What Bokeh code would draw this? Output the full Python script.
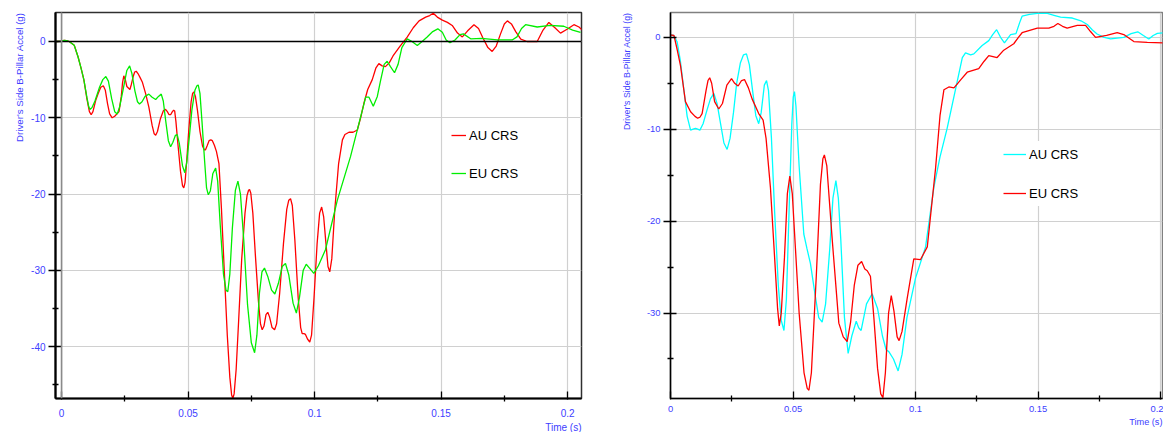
from bokeh.plotting import figure
from bokeh.layouts import row
from bokeh.models import Range1d, FixedTicker, Span, Title, Legend, LegendItem
from bokeh.embed import file_html
from bokeh.resources import INLINE

FONT = "Liberation Sans"
BLUE = "#4040ff"

# ---------------- data ----------------
x_label = "Time (s)"
y_label = "Driver's Side B-Pillar Accel (g)"
series_names = ["AU CRS", "EU CRS"]

x_ticks = [0, 0.05, 0.1, 0.15, 0.2]
x_tick_labels = ["0", "0.05", "0.1", "0.15", "0.2"]
x_minor_ticks = [0.025, 0.075, 0.125, 0.175]

left_y_ticks = [0, -10, -20, -30, -40]
left_y_tick_labels = ["0", "-10", "-20", "-30", "-40"]
left_y_minor_ticks = [-5, -15, -25, -35, -45]

right_y_ticks = [0, -10, -20, -30]
right_y_tick_labels = ["0", "-10", "-20", "-30"]
right_y_minor_ticks = [-5, -15, -25, -35]

# left chart, AU CRS (red): (time s, accel g)
left_au = [
    (-0.002, 0.0), (0.0, 0.05), (0.001, 0.15), (0.002, 0.12), (0.003, 0.0), (0.005, -0.5),
    (0.0065, -2.0), (0.0077, -3.5), (0.0088, -5.0), (0.0100, -7.5), (0.0110, -9.2),
    (0.0117, -9.6), (0.0124, -9.2), (0.0135, -7.7), (0.0145, -6.8), (0.0155, -6.0),
    (0.0165, -5.8), (0.0173, -6.4), (0.0182, -8.2), (0.0190, -9.5), (0.0200, -10.0),
    (0.0210, -9.8), (0.0227, -9.2), (0.0236, -7.2), (0.0241, -5.4), (0.0246, -4.5),
    (0.0252, -5.0), (0.0258, -5.9), (0.0264, -6.1), (0.0270, -6.3), (0.0276, -5.6),
    (0.0283, -4.6), (0.0289, -4.0), (0.0295, -3.9), (0.0302, -4.2), (0.0310, -4.7),
    (0.0319, -5.3), (0.0332, -6.8), (0.0345, -8.6), (0.0358, -11.0), (0.0366, -12.1),
    (0.0372, -12.3), (0.0379, -11.8), (0.0390, -10.2), (0.0402, -9.1), (0.0411, -8.9),
    (0.0418, -9.2), (0.0425, -9.6), (0.0431, -9.6), (0.0438, -9.2), (0.0443, -9.0),
    (0.0447, -9.1), (0.0452, -10.5), (0.0460, -13.5), (0.0470, -17.0), (0.0478, -18.9),
    (0.0483, -19.2), (0.0488, -18.5), (0.0495, -15.5), (0.0503, -11.5), (0.0512, -7.9),
    (0.0518, -6.8), (0.0523, -6.6), (0.0529, -7.2), (0.0537, -9.0), (0.0547, -11.8),
    (0.0557, -13.7), (0.0564, -14.2), (0.0569, -14.2), (0.0575, -13.7), (0.0583, -13.0),
    (0.0590, -12.9), (0.0596, -13.0), (0.0604, -13.6), (0.0612, -14.4), (0.0622, -16.0),
    (0.0632, -22.0), (0.0643, -30.0), (0.0655, -38.5), (0.0665, -44.0), (0.0672, -46.3),
    (0.0677, -46.8), (0.0682, -46.2), (0.0690, -43.0), (0.0700, -36.5), (0.0712, -28.5),
    (0.0725, -22.5), (0.0733, -20.2), (0.0739, -19.5), (0.0743, -19.4), (0.0748, -19.9),
    (0.0756, -22.5), (0.0766, -28.0), (0.0778, -34.0), (0.0786, -37.0), (0.0793, -37.8),
    (0.0800, -37.3), (0.0808, -35.8), (0.0815, -35.5), (0.0822, -36.1), (0.0832, -37.5),
    (0.0842, -37.8), (0.0850, -37.0), (0.0862, -33.0), (0.0877, -26.5), (0.0890, -22.0),
    (0.0898, -20.8), (0.0905, -20.6), (0.0912, -21.5), (0.0922, -26.0), (0.0935, -33.5),
    (0.0945, -37.5), (0.0951, -38.3), (0.0958, -38.3), (0.0964, -38.4), (0.0972, -39.0),
    (0.0981, -39.4), (0.0988, -38.5), (0.0998, -33.5), (0.1010, -26.5), (0.1020, -22.5),
    (0.1028, -21.7), (0.1036, -23.0), (0.1045, -26.5), (0.1053, -29.5), (0.1060, -30.2),
    (0.1068, -28.5), (0.1080, -22.0), (0.1095, -16.0), (0.1110, -12.9), (0.1120, -12.2),
    (0.1136, -11.9), (0.1152, -11.9), (0.1169, -11.6), (0.1182, -10.0), (0.1195, -8.1),
    (0.1210, -6.3), (0.1228, -5.0), (0.1242, -3.5), (0.1254, -2.9), (0.1267, -3.2),
    (0.1280, -3.3), (0.1295, -2.8), (0.1310, -1.9), (0.1338, -0.6), (0.1366, 0.56),
    (0.1390, 1.8), (0.1413, 2.7), (0.1439, 3.2), (0.1455, 3.4), (0.1469, 3.7),
    (0.1485, 3.2), (0.1505, 2.8), (0.1525, 2.5), (0.1544, 2.1), (0.1565, 1.1),
    (0.1584, 0.6), (0.1605, 1.4), (0.1630, 2.2), (0.1648, 1.7), (0.1665, 0.5),
    (0.1685, -0.8), (0.1702, -1.3), (0.1718, -0.6), (0.1735, 1.0), (0.1750, 2.3),
    (0.1762, 2.7), (0.1778, 2.3), (0.1795, 1.3), (0.1815, 0.3), (0.1840, 0.0),
    (0.1880, 0.0), (0.1903, 1.5), (0.1926, 2.5), (0.1950, 1.8), (0.1972, 1.1),
    (0.1998, 1.6), (0.2025, 2.2), (0.2045, 1.9), (0.2058, 1.5),
]

# left chart, EU CRS (green)
left_eu = [
    (-0.002, 0.0), (0.0, 0.05), (0.001, 0.15), (0.002, 0.12), (0.003, 0.0), (0.005, -0.5),
    (0.0065, -2.0), (0.0077, -3.5), (0.0088, -5.0), (0.0100, -7.3), (0.0107, -8.5),
    (0.0112, -8.9), (0.0120, -8.7), (0.0132, -7.8), (0.0150, -6.0), (0.0163, -5.0),
    (0.0175, -4.6), (0.0185, -5.2), (0.0198, -7.5), (0.0210, -9.2), (0.0220, -9.5),
    (0.0230, -8.5), (0.0245, -6.0), (0.0258, -3.8), (0.0269, -3.2), (0.0278, -4.2),
    (0.0290, -6.5), (0.0300, -7.9), (0.0308, -8.2), (0.0318, -7.9), (0.0330, -7.2),
    (0.0345, -6.9), (0.0358, -7.3), (0.0372, -7.6), (0.0383, -7.2), (0.0394, -6.9),
    (0.0402, -7.8), (0.0412, -10.5), (0.0422, -13.0), (0.0431, -13.8), (0.0440, -13.2),
    (0.0450, -12.3), (0.0457, -12.2), (0.0465, -13.3), (0.0478, -16.3), (0.0487, -17.2),
    (0.0495, -15.8), (0.0505, -12.5), (0.0515, -9.0), (0.0527, -6.4), (0.0535, -5.8),
    (0.0540, -5.7), (0.0547, -6.8), (0.0555, -10.5), (0.0565, -15.5), (0.0573, -19.2),
    (0.0580, -20.1), (0.0588, -19.6), (0.0598, -17.3), (0.0609, -16.6), (0.0617, -18.3),
    (0.0627, -24.0), (0.0640, -30.5), (0.0650, -32.6), (0.0657, -32.8), (0.0665, -30.5),
    (0.0675, -24.5), (0.0687, -19.5), (0.0697, -18.3), (0.0707, -20.0), (0.0720, -26.0),
    (0.0735, -34.5), (0.0750, -39.5), (0.0763, -40.8), (0.0772, -38.5), (0.0782, -33.0),
    (0.0792, -30.2), (0.0802, -29.7), (0.0815, -30.8), (0.0830, -32.6), (0.0843, -33.1),
    (0.0857, -31.7), (0.0872, -29.5), (0.0885, -29.1), (0.0898, -30.6), (0.0915, -34.3),
    (0.0928, -35.6), (0.0940, -33.6), (0.0955, -30.0), (0.0967, -29.2), (0.0980, -29.7),
    (0.0997, -30.4), (0.1015, -29.4), (0.1043, -27.3), (0.1090, -20.8), (0.1142, -15.1),
    (0.1202, -7.3), (0.1215, -7.3), (0.1232, -8.5), (0.1248, -7.2), (0.1261, -5.1),
    (0.1275, -3.0), (0.1287, -2.6), (0.1300, -3.3), (0.1316, -4.1), (0.1330, -3.0),
    (0.1345, -0.8), (0.1366, 0.35), (0.1385, 0.0), (0.1406, -0.52), (0.1425, 0.0),
    (0.1445, 0.6), (0.1467, 1.3), (0.1487, 1.66), (0.1505, 1.2), (0.1520, 0.2),
    (0.1535, -0.17), (0.1555, 0.2), (0.1575, 0.9), (0.1588, 1.0), (0.1617, 0.35),
    (0.1660, 0.4), (0.1722, 0.2), (0.1781, 0.2), (0.1800, 0.6), (0.1818, 1.7),
    (0.1834, 2.2), (0.1880, 1.9), (0.1930, 2.1), (0.1985, 2.0), (0.2020, 1.5),
    (0.2051, 1.2),
]

# right chart, AU CRS (cyan)
right_au = [
    (0.0, 0.25), (0.0013, 0.2), (0.0027, -0.5), (0.0040, -2.5), (0.0054, -5.6),
    (0.0068, -8.6), (0.0082, -10.1), (0.0092, -10.0), (0.0102, -9.9), (0.0111, -10.0),
    (0.0120, -10.1), (0.0133, -9.4), (0.0148, -8.0), (0.0163, -6.7), (0.0177, -6.1),
    (0.0190, -7.2), (0.0205, -9.5), (0.0218, -11.5), (0.0231, -12.2), (0.0243, -11.0),
    (0.0257, -8.2), (0.0270, -5.0), (0.0285, -2.8), (0.0298, -1.9), (0.0310, -1.8),
    (0.0322, -3.0), (0.0335, -5.8), (0.0348, -8.5), (0.0360, -9.4), (0.0370, -8.2),
    (0.0383, -5.2), (0.0392, -4.7), (0.0400, -5.8), (0.0412, -11.0), (0.0425, -19.0),
    (0.0440, -27.0), (0.0452, -30.8), (0.0463, -31.9), (0.0473, -28.5), (0.0485, -18.0),
    (0.0495, -9.5), (0.0501, -6.5), (0.0506, -5.9), (0.0512, -7.5), (0.0525, -14.0),
    (0.0544, -21.4), (0.0557, -23.0), (0.0571, -24.6), (0.0590, -28.0), (0.0605, -30.5),
    (0.0619, -31.0), (0.0633, -29.0), (0.0650, -23.0), (0.0663, -17.5), (0.0675, -15.6),
    (0.0685, -17.5), (0.0695, -22.0), (0.0710, -30.5), (0.0725, -34.4), (0.0740, -32.5),
    (0.0758, -30.9), (0.0768, -31.6), (0.0778, -31.9), (0.0800, -29.0), (0.0823, -27.9),
    (0.0845, -29.5), (0.0865, -32.5), (0.0880, -34.0), (0.0891, -34.2), (0.0910, -35.0),
    (0.0929, -36.3), (0.0945, -34.5), (0.0965, -30.5), (0.1000, -26.2), (0.1041, -22.8),
    (0.1075, -16.3), (0.1100, -13.0), (0.1129, -9.9), (0.1163, -5.7), (0.1191, -2.2),
    (0.1204, -1.7), (0.1225, -1.9), (0.1238, -1.8), (0.1272, -0.9), (0.1299, -0.36),
    (0.1315, 0.3), (0.1331, 0.83), (0.1347, 0.0), (0.1363, -0.6), (0.1388, 0.29),
    (0.1410, 0.4), (0.1425, 1.6), (0.1435, 2.3), (0.1465, 2.5), (0.1497, 2.6),
    (0.1538, 2.6), (0.1565, 2.4), (0.1592, 2.2), (0.1640, 2.1), (0.1675, 1.8),
    (0.1701, 1.4), (0.1722, 0.8), (0.1741, 0.36), (0.1770, 0.0), (0.1796, -0.18),
    (0.1850, 0.0), (0.1880, 0.4), (0.1907, 0.6), (0.1930, 0.2), (0.1952, -0.18),
    (0.1970, 0.2), (0.1987, 0.43), (0.2013, 0.5),
]

# right chart, EU CRS (red)
right_eu = [
    (0.0, 0.25), (0.0014, 0.2), (0.0027, -1.3), (0.0041, -3.1), (0.0061, -7.0),
    (0.0082, -8.1), (0.0100, -8.6), (0.0111, -8.8), (0.0120, -8.7), (0.0129, -8.3),
    (0.0145, -5.8), (0.0153, -4.7), (0.0160, -4.4), (0.0168, -5.0), (0.0180, -7.0),
    (0.0197, -7.8), (0.0212, -7.2), (0.0230, -5.2), (0.0249, -4.5), (0.0262, -5.0),
    (0.0276, -5.3), (0.0290, -4.7), (0.0302, -4.6), (0.0318, -5.5), (0.0333, -6.7),
    (0.0360, -8.3), (0.0378, -9.0), (0.0390, -11.0), (0.0408, -16.4), (0.0425, -24.0),
    (0.0437, -29.5), (0.0444, -31.4), (0.0452, -30.0), (0.0465, -24.0), (0.0477, -17.0),
    (0.0487, -15.1), (0.0497, -17.0), (0.0510, -23.0), (0.0525, -30.0), (0.0545, -36.5),
    (0.0558, -38.2), (0.0565, -38.4), (0.0575, -36.5), (0.0595, -26.0), (0.0612, -16.0),
    (0.0622, -13.2), (0.0628, -12.8), (0.0638, -14.0), (0.0660, -22.0), (0.0687, -31.1),
    (0.0705, -32.6), (0.0721, -33.1), (0.0735, -31.0), (0.0750, -27.0), (0.0765, -24.8),
    (0.0780, -24.4), (0.0793, -25.2), (0.0803, -25.4), (0.0816, -26.0), (0.0830, -30.5),
    (0.0845, -36.0), (0.0858, -38.8), (0.0867, -39.2), (0.0877, -36.5), (0.0890, -30.0),
    (0.0901, -28.1), (0.0912, -29.8), (0.0925, -32.6), (0.0933, -33.0), (0.0945, -32.0),
    (0.0966, -28.4), (0.0993, -24.1), (0.1020, -24.2), (0.1048, -22.8), (0.1065, -18.5),
    (0.1082, -14.2), (0.1100, -8.5), (0.1116, -5.7), (0.1136, -5.4), (0.1157, -5.5),
    (0.1185, -4.6), (0.1211, -3.8), (0.1258, -3.4), (0.1280, -2.6), (0.1299, -2.0),
    (0.1333, -2.2), (0.1360, -1.4), (0.1401, -0.7), (0.1420, 0.0), (0.1435, 0.5),
    (0.1497, 1.0), (0.1544, 1.0), (0.1565, 1.2), (0.1581, 1.5), (0.1600, 1.2),
    (0.1619, 1.0), (0.1660, 1.3), (0.1694, 1.3), (0.1715, 0.6), (0.1735, 0.0),
    (0.1780, 0.2), (0.1823, 0.5), (0.1850, 0.3), (0.1891, -0.46), (0.1946, -0.54),
    (0.2012, -0.6),
]


def cols(pairs):
    return [p[0] for p in pairs], [p[1] for p in pairs]


def style_axes(p, y_ticks, y_labels, y_minor, axis_w, font_px, x_standoff):
    p.xaxis.ticker = FixedTicker(ticks=x_ticks, minor_ticks=x_minor_ticks)
    p.xaxis.major_label_overrides = {t: s for t, s in zip(x_ticks, x_tick_labels)}
    p.yaxis.ticker = FixedTicker(ticks=y_ticks, minor_ticks=y_minor)
    p.yaxis.major_label_overrides = {t: s for t, s in zip(y_ticks, y_labels)}
    for ax in (p.xaxis, p.yaxis):
        ax.axis_line_color = "black"
        ax.axis_line_width = axis_w
        ax.major_tick_line_color = "black"
        ax.minor_tick_line_color = "black"
        ax.major_tick_line_width = 1.3
        ax.minor_tick_line_width = 1.3
        ax.major_label_text_color = BLUE
        ax.major_label_text_font = FONT
        ax.major_label_text_font_size = font_px
    p.xaxis.major_tick_in = 7
    p.xaxis.major_tick_out = 1
    p.xaxis.minor_tick_in = 3
    p.xaxis.minor_tick_out = 3
    p.xaxis.major_label_standoff = x_standoff
    p.yaxis.major_tick_in = 6
    p.yaxis.major_tick_out = 7
    p.yaxis.minor_tick_in = 3
    p.yaxis.minor_tick_out = 3
    p.yaxis.major_label_standoff = 3
    p.xgrid.grid_line_color = "#d0d0d0"
    p.ygrid.grid_line_color = "#d0d0d0"
    p.xgrid.grid_line_width = 1.2
    p.ygrid.grid_line_width = 1.2


def add_titles(p, ylab_px, xlab_px, y_standoff):
    p.add_layout(Title(text=x_label, align="right", text_color=BLUE, text_font=FONT,
                       text_font_size=xlab_px, text_font_style="normal",
                       standoff=0, offset=0), "below")
    p.add_layout(Title(text=y_label, align="right", text_color=BLUE, text_font=FONT,
                       text_font_size=ylab_px, text_font_style="normal",
                       standoff=y_standoff, offset=0), "left")


def add_legend(p, items, loc, glyph_w, spacing):
    leg = Legend(items=items, location=loc, background_fill_color="white",
                 background_fill_alpha=1.0, border_line_color=None, padding=6,
                 spacing=spacing, glyph_width=glyph_w, glyph_height=26, label_height=26,
                 label_standoff=3, label_text_font=FONT, label_text_font_size="13px",
                 label_text_color="black", margin=0)
    p.add_layout(leg)


# ---------------- left chart ----------------
p1 = figure(width=600, height=432, x_range=Range1d(-0.0024, 0.2055),
            y_range=Range1d(-46.8, 3.8), output_backend="svg", toolbar_location=None,
            min_border_left=55, min_border_right=19, min_border_top=12, min_border_bottom=32)
p1.outline_line_color = "#303030"
p1.outline_line_width = 1.5
style_axes(p1, left_y_ticks, left_y_tick_labels, left_y_minor_ticks, 2.2, "10px", 7)
p1.add_layout(Span(location=0, dimension="width", line_color="black", line_width=1.3))
p1.add_layout(Span(location=0, dimension="height", line_color="#8a8a8a", line_width=1.6))
t, g = cols(left_au)
r_au1 = p1.line(t, g, line_color="#ff0000", line_width=1.3)
t, g = cols(left_eu)
r_eu1 = p1.line(t, g, line_color="#00ee00", line_width=1.3)
add_titles(p1, "9.7px", "10px", 8)
add_legend(p1, [LegendItem(label=series_names[0], renderers=[r_au1]),
                LegendItem(label=series_names[1], renderers=[r_eu1])], (396, 212), 15, 12)

# ---------------- right chart ----------------
p2 = figure(width=563, height=432, x_range=Range1d(0.0, 0.2008),
            y_range=Range1d(-39.3, 2.7), output_backend="svg", toolbar_location=None,
            min_border_left=70, min_border_right=1, min_border_top=10, min_border_bottom=32)
p2.outline_line_color = "#808080"
p2.outline_line_width = 1.5
style_axes(p2, right_y_ticks, right_y_tick_labels, right_y_minor_ticks, 1.5, "9.4px", 4)
t, g = cols(right_au)
r_au2 = p2.line(t, g, line_color="#00ffff", line_width=1.3)
t, g = cols(right_eu)
r_eu2 = p2.line(t, g, line_color="#ff0000", line_width=1.3)
add_titles(p2, "8.8px", "9.2px", 23)
add_legend(p2, [LegendItem(label=series_names[0], renderers=[r_au2]),
                LegendItem(label=series_names[1], renderers=[r_eu2])], (333, 192), 23, 13)

layout = row(p1, p2)
open("out.html", "w").write(file_html(layout, INLINE))
